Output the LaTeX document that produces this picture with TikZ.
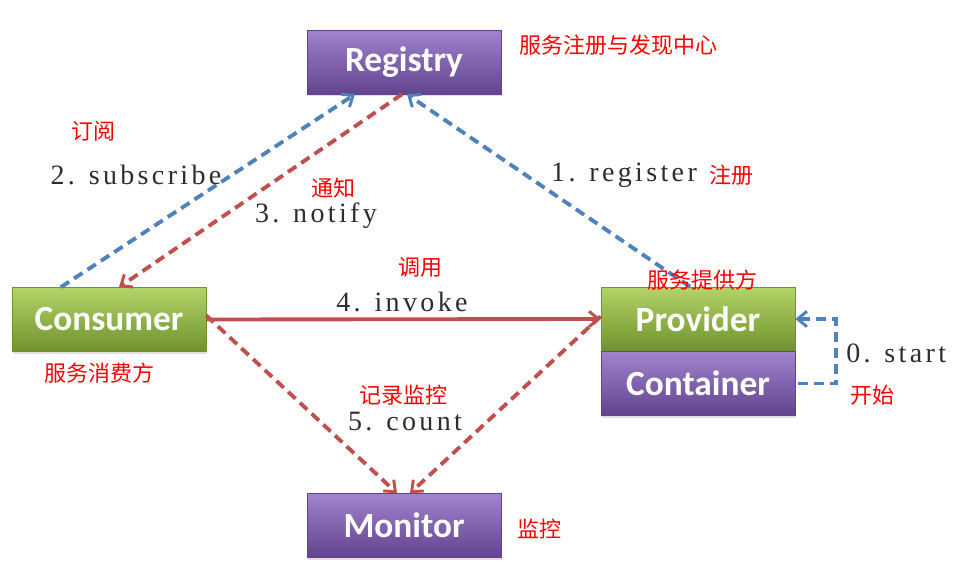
\documentclass[tikz,border=0pt]{standalone}
\usepackage{fontspec}
\usepackage{xcolor}
\usetikzlibrary{arrows.meta,shadows}
\newfontfamily\boxfont{Carlito}
\newfontfamily\cnfont{Noto Sans CJK SC}
\newfontfamily\stepfont{Liberation Serif}[LetterSpace=12]

\definecolor{purpletop}{RGB}{160,130,205}
\definecolor{purplebot}{RGB}{98,68,142}
\definecolor{greentop}{RGB}{178,212,104}
\definecolor{greenbot}{RGB}{112,146,44}
\definecolor{linkblue}{RGB}{79,129,189}
\definecolor{linkred}{RGB}{192,80,77}
\definecolor{steptext}{RGB}{45,45,45}

\tikzset{
  box/.style={rectangle, minimum width=145.5pt, minimum height=48pt, inner sep=0pt,
    text=white, font=\boxfont\bfseries\fontsize{26.5}{26.5}\selectfont,
    drop shadow={opacity=0.25, shadow xshift=1pt, shadow yshift=-1.5pt}},
  purplebox/.style={box, top color=purpletop, bottom color=purplebot, draw=purplebot},
  greenbox/.style={box, top color=greentop, bottom color=greenbot, draw=greenbot},
  tip/.style={-{Straight Barb[length=7pt,width=11.5pt,line width=2.2pt]}},
  bluedash/.style={tip, draw=linkblue, line width=2.9pt, dash pattern=on 7.5pt off 4.5pt},
  reddash/.style={tip, draw=linkred, line width=2.9pt, dash pattern=on 7.5pt off 4.5pt},
  redline/.style={tip, draw=linkred, line width=2.9pt},
  cnlabel/.style={inner sep=0.75pt, text=red, font=\cnfont\fontsize{16.5}{16.5}\selectfont},
  steplabel/.style={inner sep=0.75pt, text=steptext, font=\stepfont\fontsize{21}{21}\selectfont}
}

\begin{document}
\begin{tikzpicture}[x=0.75pt,y=0.75pt,yscale=-1,xscale=1]
\useasboundingbox (0,0) rectangle (958,571);

% boxes
\node [purplebox] (registry) at (404,62) {Registry};
\node [greenbox] (consumer) at (109,319.5) {Consumer};
\node [greenbox] (provider) at (698,319) {Provider};
\node [purplebox, anchor=north] (container) at (provider.south) {Container};
\node [purplebox] (monitor) at (404,525.5) {Monitor};

% connectors
\draw [bluedash] ([xshift=36.75pt]consumer.north west) -- ([xshift=-36.75pt]registry.south);
\draw [reddash] ([xshift=-1.5pt]registry.south) -- ([xshift=7.5pt]consumer.north);
\draw [bluedash] ([xshift=-6pt]provider.north) -- ([xshift=2.25pt]registry.south);
\draw [redline] (consumer.east) -- (provider.west);
\draw [reddash] ([yshift=-3pt]consumer.east) -- ([xshift=-5.25pt]monitor.north);
\draw [reddash] ([yshift=-2pt]provider.west) -- ([xshift=4.5pt]monitor.north);
\draw [bluedash] ([xshift=2pt]container.east) -- ++(38,0) |- (provider.east);

% labels
\node [cnlabel] (registry-cn) at (618,45) {服务注册与发现中心};
\node [cnlabel] (subscribe-cn) at (93,131) {订阅};
\node [steplabel] (subscribe-en) at (136,175) {2. subscribe};
\node [cnlabel] (notify-cn) at (333,188) {通知};
\node [steplabel] (notify-en) at (316,216) {3. notify};
\node [steplabel] (register-en) at (624,175) {1. register};
\node [cnlabel] (register-cn) at (731,175) {注册};
\node [cnlabel] (invoke-cn) at (420,267) {调用};
\node [steplabel] (invoke-en) at (402,302) {4. invoke};
\node [cnlabel] (consumer-cn) at (100,373) {服务消费方};
\node [cnlabel] (provider-cn) at (702,280) {服务提供方};
\node [steplabel, anchor=west] (start-en) at (845,353) {0. start};
\node [cnlabel] (start-cn) at (872,395) {开始};
\node [cnlabel] (count-cn) at (403,395) {记录监控};
\node [steplabel] (count-en) at (405,422) {5. count};
\node [cnlabel] (monitor-cn) at (539,529) {监控};
\end{tikzpicture}
\end{document}
